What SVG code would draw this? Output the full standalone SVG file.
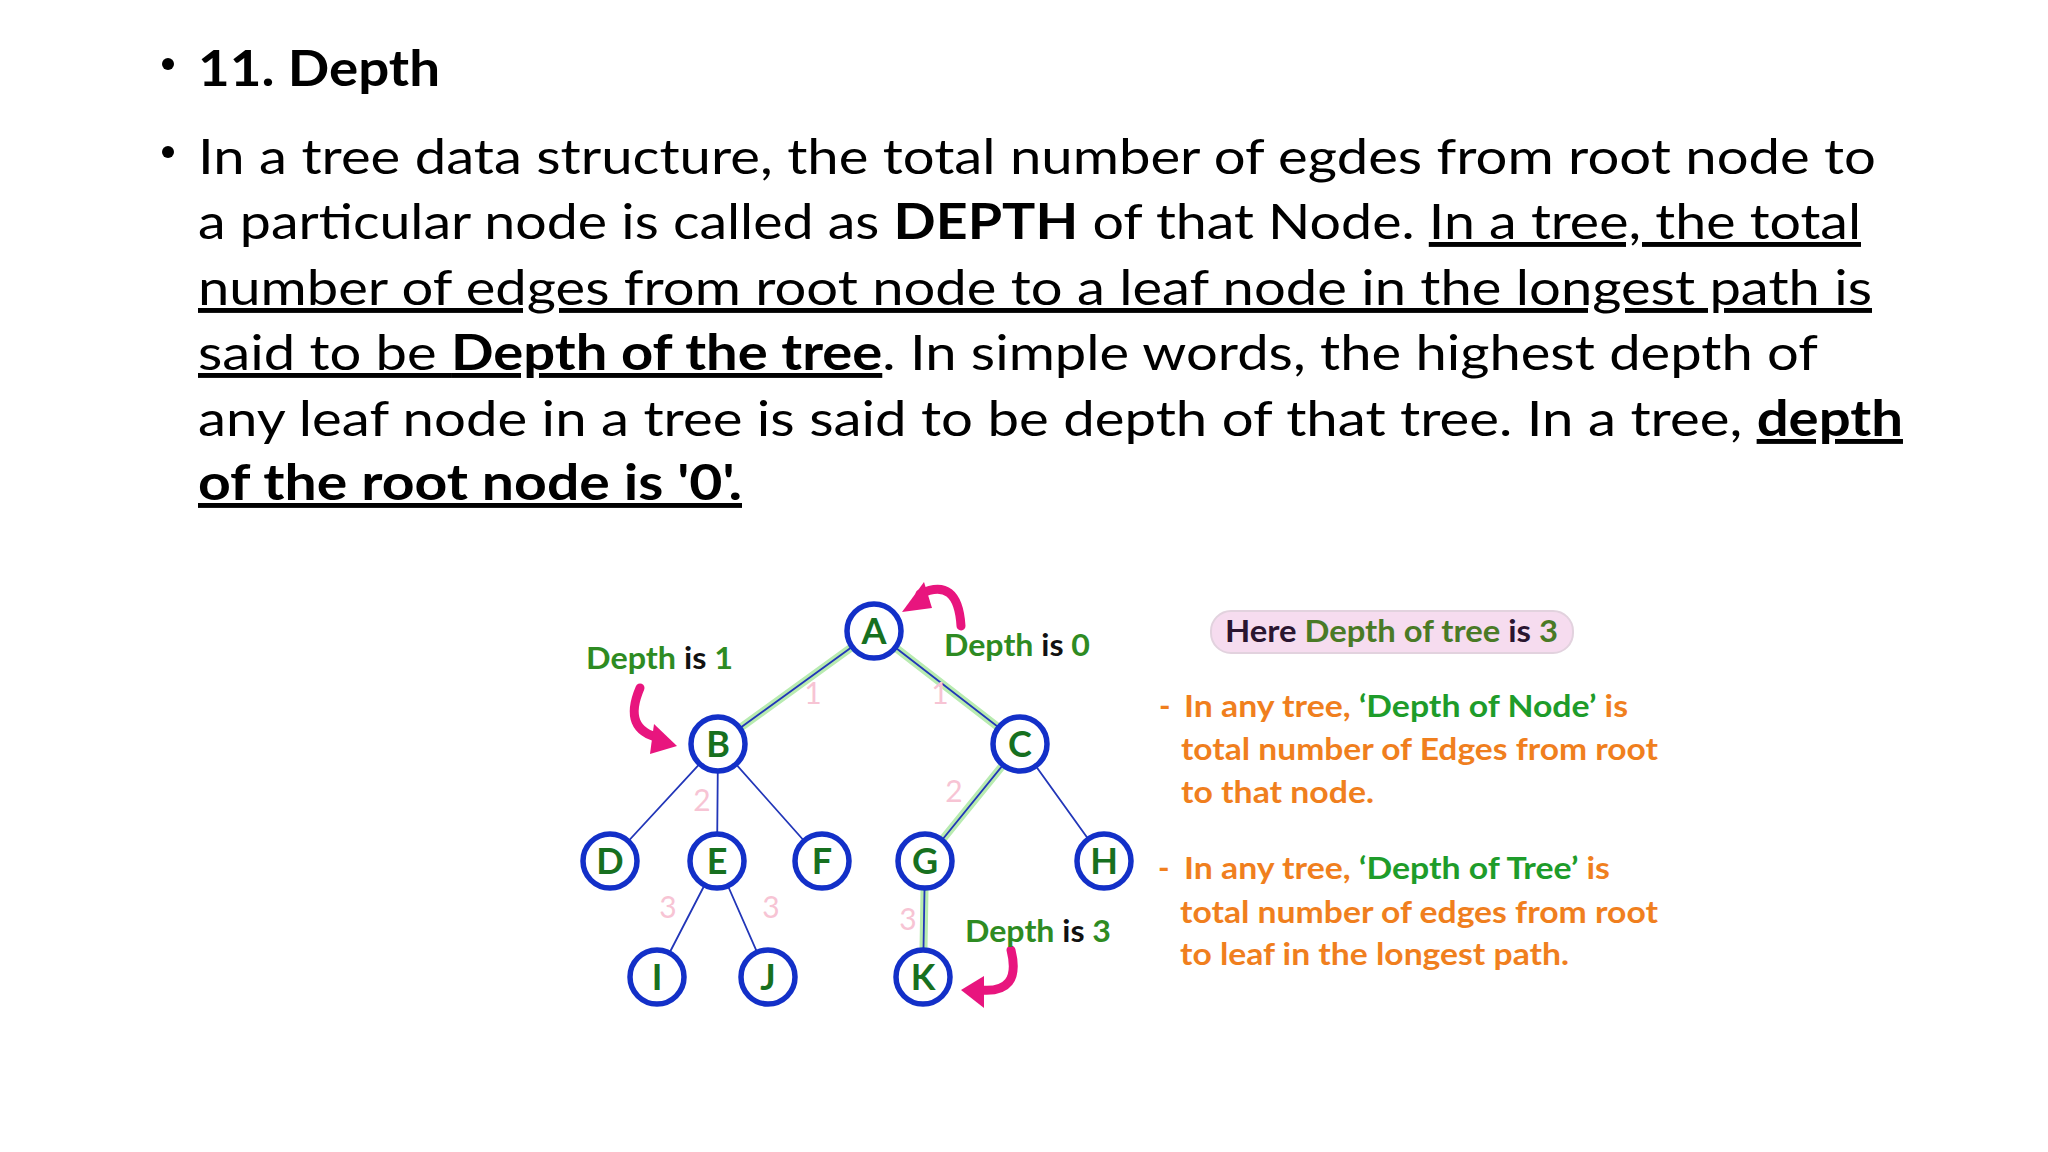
<svg xmlns="http://www.w3.org/2000/svg" width="2048" height="1152" viewBox="0 0 2048 1152">
<style>
.body{font-family:Lato,"Open Sans",sans-serif;font-size:49px;fill:#000}
.b{font-weight:bold}
.u{text-decoration:underline}
.lbl{font-family:Lato,"Open Sans",sans-serif;font-weight:bold;font-size:31px}
.g{fill:#2e8b22}
.k{fill:#111}
.o{fill:#f07f1e}
.gg{fill:#1e9c2a}
.num{font-family:Lato,sans-serif;font-size:30px;fill:#f7c4d4;text-anchor:middle}
.node circle{fill:#fff;stroke:#1330c8;stroke-width:5.5}
.node text{font-family:Lato,"Open Sans",sans-serif;font-weight:bold;font-size:36px;fill:#17701f;text-anchor:middle}
.hl{stroke:#b8ebb0;stroke-width:8;fill:none}
.ed{stroke:#2236b8;stroke-width:1.8;fill:none}
.arr{stroke:#e8157e;stroke-width:9;fill:none;stroke-linecap:round}
</style>
<rect width="2048" height="1152" fill="#fff"/>
<g id="text">
<circle cx="168" cy="64" r="6" fill="#000"/>
<text class="body b" x="198" y="86" textLength="242" lengthAdjust="spacingAndGlyphs">11. Depth</text>
<circle cx="168" cy="152" r="6" fill="#000"/>
<text class="body" x="198" y="174" textLength="1678" lengthAdjust="spacingAndGlyphs">In a tree data structure, the total number of egdes from root node to</text>
<text class="body" x="198" y="239" textLength="1663" lengthAdjust="spacingAndGlyphs">a particular node is called as <tspan class="b">DEPTH</tspan> of that Node. <tspan class="u">In a tree, the total</tspan></text>
<text class="body u" x="198" y="305" textLength="1674" lengthAdjust="spacingAndGlyphs">number of edges from root node to a leaf node in the longest path is</text>
<text class="body" x="198" y="370" textLength="1620" lengthAdjust="spacingAndGlyphs"><tspan class="u">said to be </tspan><tspan class="u b">Depth of the tree</tspan>. In simple words, the highest depth of</text>
<text class="body" x="198" y="436" textLength="1705" lengthAdjust="spacingAndGlyphs">any leaf node in a tree is said to be depth of that tree. In a tree, <tspan class="b u">depth</tspan></text>
<text class="body b u" x="198" y="500" textLength="544" lengthAdjust="spacingAndGlyphs">of the root node is '0'.</text>
</g>
<g id="connectors">
<path class="hl" d="M874 631L718 744M874 631L1020 744M1020 744L925 861M925 861L923 977"/>
<path class="ed" d="M874 631L718 744M874 631L1020 744M718 744L610 861M718 744L717 861M718 744L822 861M1020 744L925 861M1020 744L1104 861M717 861L657 977M717 861L768 977M925 861L923 977"/>
<text class="num" x="813" y="704">1</text>
<text class="num" x="940" y="704">1</text>
<text class="num" x="702" y="811">2</text>
<text class="num" x="954" y="802">2</text>
<text class="num" x="668" y="918">3</text>
<text class="num" x="771" y="918">3</text>
<text class="num" x="908" y="930">3</text>
</g>
<g id="nA" class="node"><circle cx="874" cy="631" r="27"/><text x="874" y="644">A</text></g>
<g id="nB" class="node"><circle cx="718" cy="744" r="27"/><text x="718" y="757">B</text></g>
<g id="nC" class="node"><circle cx="1020" cy="744" r="27"/><text x="1020" y="757">C</text></g>
<g id="nD" class="node"><circle cx="610" cy="861" r="27"/><text x="610" y="874">D</text></g>
<g id="nE" class="node"><circle cx="717" cy="861" r="27"/><text x="717" y="874">E</text></g>
<g id="nF" class="node"><circle cx="822" cy="861" r="27"/><text x="822" y="874">F</text></g>
<g id="nG" class="node"><circle cx="925" cy="861" r="27"/><text x="925" y="874">G</text></g>
<g id="nH" class="node"><circle cx="1104" cy="861" r="27"/><text x="1104" y="874">H</text></g>
<g id="nI" class="node"><circle cx="657" cy="977" r="27"/><text x="657" y="990">I</text></g>
<g id="nJ" class="node"><circle cx="768" cy="977" r="27"/><text x="768" y="990">J</text></g>
<g id="nK" class="node"><circle cx="923" cy="977" r="27"/><text x="923" y="990">K</text></g>
<g id="arrows">
<path class="arr" d="M961 626Q958 576 920 594"/>
<polygon points="902,612 924,582 932,608" fill="#e8157e"/>
<path class="arr" d="M640 688Q622 730 660 738"/>
<polygon points="677,746 654,724 650,754" fill="#e8157e"/>
<path class="arr" d="M1011 950Q1022 994 980 990"/>
<polygon points="961,990 984,976 984,1008" fill="#e8157e"/>
</g>
<g id="labels">
<text class="lbl" x="586" y="669" textLength="147" lengthAdjust="spacingAndGlyphs"><tspan class="g">Depth </tspan><tspan class="k">is </tspan><tspan class="g">1</tspan></text>
<text class="lbl" x="944" y="656" textLength="146" lengthAdjust="spacingAndGlyphs"><tspan class="g">Depth </tspan><tspan class="k">is </tspan><tspan class="g">0</tspan></text>
<text class="lbl" x="965" y="942" textLength="146" lengthAdjust="spacingAndGlyphs"><tspan class="g">Depth </tspan><tspan class="k">is </tspan><tspan class="g">3</tspan></text>
</g>
<g id="info">
<rect x="1211" y="611" width="362" height="42" rx="20" fill="#f6dcef" stroke="#e2d2de" stroke-width="2"/>
<text class="lbl" x="1225" y="642" textLength="333" lengthAdjust="spacingAndGlyphs"><tspan fill="#2a1530">Here </tspan><tspan fill="#4a7a26">Depth of tree </tspan><tspan fill="#2a1530">is </tspan><tspan fill="#4a7a26">3</tspan></text>
<text class="lbl o" x="1159" y="717">-</text>
<text class="lbl o" x="1184" y="717" textLength="444" lengthAdjust="spacingAndGlyphs">In any tree, <tspan class="gg">‘Depth of Node’</tspan> is</text>
<text class="lbl o" x="1181" y="760" textLength="477" lengthAdjust="spacingAndGlyphs">total number of Edges from root</text>
<text class="lbl o" x="1181" y="803" textLength="193" lengthAdjust="spacingAndGlyphs">to that node.</text>
<text class="lbl o" x="1158" y="879">-</text>
<text class="lbl o" x="1184" y="879" textLength="426" lengthAdjust="spacingAndGlyphs">In any tree, <tspan class="gg">‘Depth of Tree’</tspan> is</text>
<text class="lbl o" x="1180" y="923" textLength="478" lengthAdjust="spacingAndGlyphs">total number of edges from root</text>
<text class="lbl o" x="1180" y="965" textLength="389" lengthAdjust="spacingAndGlyphs">to leaf in the longest path.</text>
</g>
</svg>
